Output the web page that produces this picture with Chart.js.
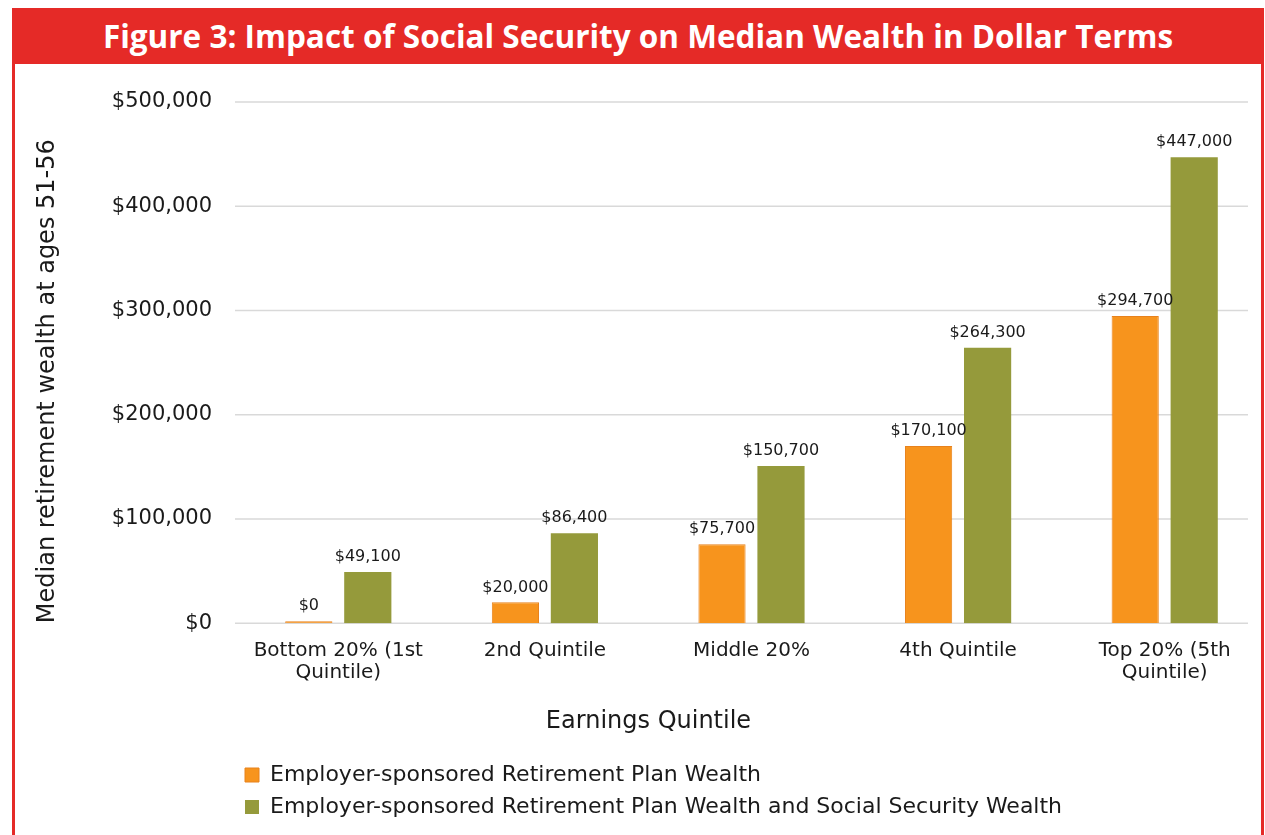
<!DOCTYPE html>
<html>
<head>
<meta charset="utf-8">
<script src="https://cdn.jsdelivr.net/npm/chart.js@4"></script>
<style>
  body { margin: 0; background: #fff; overflow: hidden; }
  #head {
    position: absolute; left: 12px; top: 8px; width: 1252px; height: 56px;
    background: #e52a27; color: #fff; text-align: center;
    font: bold 31.5px 'Open Sans', sans-serif; line-height: 56px;
  }
  #frame {
    position: absolute; left: 12px; top: 64px; width: 1252px; height: 780px;
    border-left: 3px solid #e52a27; border-right: 3px solid #e52a27; box-sizing: border-box;
  }
  #wrap { position: relative; width: 1253px; height: 771px; }
</style>
</head>
<body>
<div id="head">Figure 3: Impact of Social Security on Median Wealth in Dollar Terms</div>
<div id="frame"><div id="wrap"><canvas id="chart-bar"></canvas></div></div>
<script>
// data
const quintiles = [
    ['Bottom 20% (1st', 'Quintile)'],
    '2nd Quintile',
    'Middle 20%',
    '4th Quintile',
    ['Top 20% (5th', 'Quintile)']];
const planWealth = [0, 20000, 75700, 170100, 294700];
const planAndSocialWealth = [49100, 86400, 150700, 264300, 447000];
const seriesNames = [
    'Employer-sponsored Retirement Plan Wealth',
    'Employer-sponsored Retirement Plan Wealth and Social Security Wealth'];

const txt = '#1a1a1a';
const bodyFont = "'DejaVu Sans', sans-serif";
const money = (v) => '$' + Number(v).toLocaleString('en-US');

// horizontal gridlines, stopping a bit short of the right edge like the original
const yGrid = {
    id: 'yGrid',
    beforeDatasetsDraw(chart) {
        const { ctx, chartArea, scales } = chart;
        const y = scales.y;
        ctx.save();
        ctx.strokeStyle = '#d9d9d9';
        ctx.lineWidth = 1.5;
        y.ticks.forEach((t) => {
            const py = y.getPixelForValue(t.value);
            ctx.beginPath();
            ctx.moveTo(chartArea.left, py);
            ctx.lineTo(chartArea.right - 20, py);
            ctx.stroke();
        });
        ctx.restore();
    }
};

// value labels above each bar
const barLabels = {
    id: 'barLabels',
    afterDatasetsDraw(chart) {
        const ctx = chart.ctx;
        ctx.save();
        ctx.font = '16px ' + bodyFont;
        ctx.fillStyle = txt;
        ctx.textAlign = 'center';
        ctx.textBaseline = 'bottom';
        chart.data.datasets.forEach((ds, i) => {
            chart.getDatasetMeta(i).data.forEach((bar, j) => {
                ctx.fillText(money(ds.data[j]), bar.x, bar.y - 7);
            });
        });
        ctx.restore();
    }
};

const dataBar = {
    labels: quintiles,
    datasets: [
        {
            label: seriesNames[0],
            data: planWealth,
            backgroundColor: '#f7941d',
            borderColor: '#e8821c',
            borderWidth: 1,
            minBarLength: 2
        },
        {
            label: seriesNames[1],
            data: planAndSocialWealth,
            backgroundColor: '#959a3b',
            borderWidth: 0
        }]
};

const configBar = {
    type: 'bar',
    data: dataBar,
    plugins: [yGrid, barLabels],
    options: {
        maintainAspectRatio: false,
        animation: false,
        categoryPercentage: 0.571,
        barPercentage: 0.8,
        layout: {
            padding: { top: 38, left: 14, right: 0, bottom: 7 }
        },
        scales: {
            y: {
                min: 0,
                max: 500000,
                afterFit: (s) => { s.width = 206; },
                border: { display: false },
                grid: { display: false },
                ticks: {
                    stepSize: 100000,
                    padding: 15,
                    color: txt,
                    font: { family: bodyFont, size: 21 },
                    callback: (v) => money(v)
                },
                title: {
                    display: true,
                    align: 'start',
                    text: 'Median retirement wealth at ages 51-56',
                    color: txt,
                    font: { family: bodyFont, size: 24 }
                }
            },
            x: {
                border: { display: false },
                grid: { display: false },
                ticks: {
                    padding: 9,
                    maxRotation: 0,
                    color: txt,
                    font: { family: bodyFont, size: 20, lineHeight: 1.1 }
                }
            }
        },
        plugins: {
            title: {
                display: true,
                position: 'bottom',
                weight: 500,
                text: 'Earnings Quintile',
                color: txt,
                padding: { top: 14, bottom: 18 },
                font: { family: bodyFont, size: 24, weight: 'normal' }
            },
            legend: {
                position: 'bottom',
                align: 'start',
                fullSize: false,
                labels: {
                    boxWidth: 14,
                    boxHeight: 14,
                    padding: 10,
                    color: txt,
                    font: { family: bodyFont, size: 22 }
                }
            },
            tooltip: { enabled: false }
        }
    }
};

const chartBar = new Chart(
    document.getElementById('chart-bar'),
    configBar
);
</script>
</body>
</html>
